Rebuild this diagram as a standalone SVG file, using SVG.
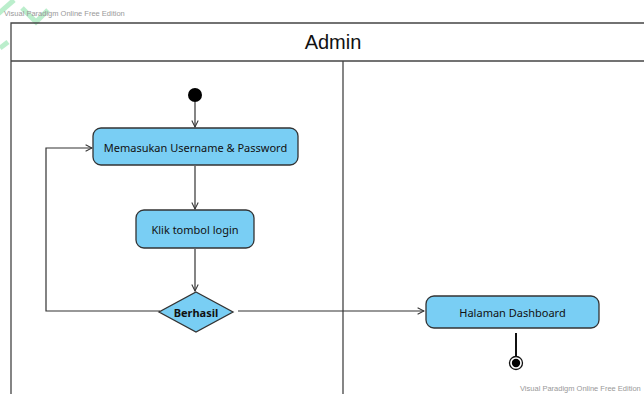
<svg xmlns="http://www.w3.org/2000/svg" width="644" height="394" viewBox="0 0 644 394">
<defs>
<style>
.act{fill:#79cef4;stroke:#333;stroke-width:1.3}
.lbl{font-family:"Noto Sans","Liberation Sans",sans-serif;font-size:11px;fill:#111;text-anchor:middle;dominant-baseline:central}
.edge{fill:none;stroke:#333;stroke-width:1.2}
.frame{fill:none;stroke:#444;stroke-width:1.3}
.wm{font-family:"Liberation Sans",Arial,sans-serif;font-size:7.5px;fill:#999}
</style>
<marker id="arr" viewBox="0 0 10 10" refX="9" refY="5" markerWidth="8" markerHeight="8" orient="auto" markerUnits="userSpaceOnUse">
<path d="M1,1 L9,5 L1,9" fill="none" stroke="#333" stroke-width="1.3"/>
</marker>
</defs>
<rect width="644" height="394" fill="#fff"/>
<g id="watermark" opacity="0.35" stroke="#3fcf6f" stroke-width="5" fill="none">
<path d="M-2,14 L14,0"/>
<path d="M0,48 L8,42"/>
<path d="M22,8 L36,22 L48,10"/>
</g>
<text class="wm" x="4" y="16">Visual Paradigm Online Free Edition</text>
<text class="wm" x="520" y="391">Visual Paradigm Online Free Edition</text>
<g id="frame">
<path class="frame" d="M11,394 L11,23 L644,23"/>
<line class="frame" x1="11" y1="61" x2="644" y2="61"/>
<line class="frame" x1="343" y1="61" x2="343" y2="394"/>
<text x="333" y="42" font-family="Liberation Sans,Arial,sans-serif" font-size="20" fill="#111" text-anchor="middle" dominant-baseline="central">Admin</text>
</g>
<g id="connectors">
<line class="edge" x1="195" y1="102" x2="195" y2="127" marker-end="url(#arr)"/>
<line class="edge" x1="195" y1="166" x2="195" y2="209" marker-end="url(#arr)"/>
<line class="edge" x1="195" y1="249" x2="195" y2="291" marker-end="url(#arr)"/>
<path class="edge" d="M160,311 L46,311 L46,148 L92,148" marker-end="url(#arr)"/>
<line class="edge" x1="238" y1="311" x2="424" y2="311" marker-end="url(#arr)"/>
<line x1="516" y1="333" x2="516" y2="357" stroke="#111" stroke-width="2"/>
</g>
<g id="start"><circle cx="195" cy="95" r="7" fill="#000"/></g>
<g id="memasukan">
<rect class="act" x="93" y="128" width="205" height="37" rx="8"/>
<text class="lbl" x="195.5" y="147">Memasukan Username &amp; Password</text>
</g>
<g id="klik">
<rect class="act" x="136" y="210" width="118" height="38" rx="8"/>
<text class="lbl" x="195" y="229">Klik tombol login</text>
</g>
<g id="berhasil">
<polygon class="act" points="196,292 233,312 196,332 159,312"/>
<text class="lbl" x="196" y="312" font-weight="bold">Berhasil</text>
</g>
<g id="dashboard">
<rect class="act" x="426" y="296" width="173" height="32" rx="8"/>
<text class="lbl" x="512.5" y="312">Halaman Dashboard</text>
</g>
<g id="end">
<circle cx="516" cy="363" r="6.5" fill="#fff" stroke="#111" stroke-width="1.3"/>
<circle cx="516" cy="363" r="4.2" fill="#000"/>
</g>
</svg>
